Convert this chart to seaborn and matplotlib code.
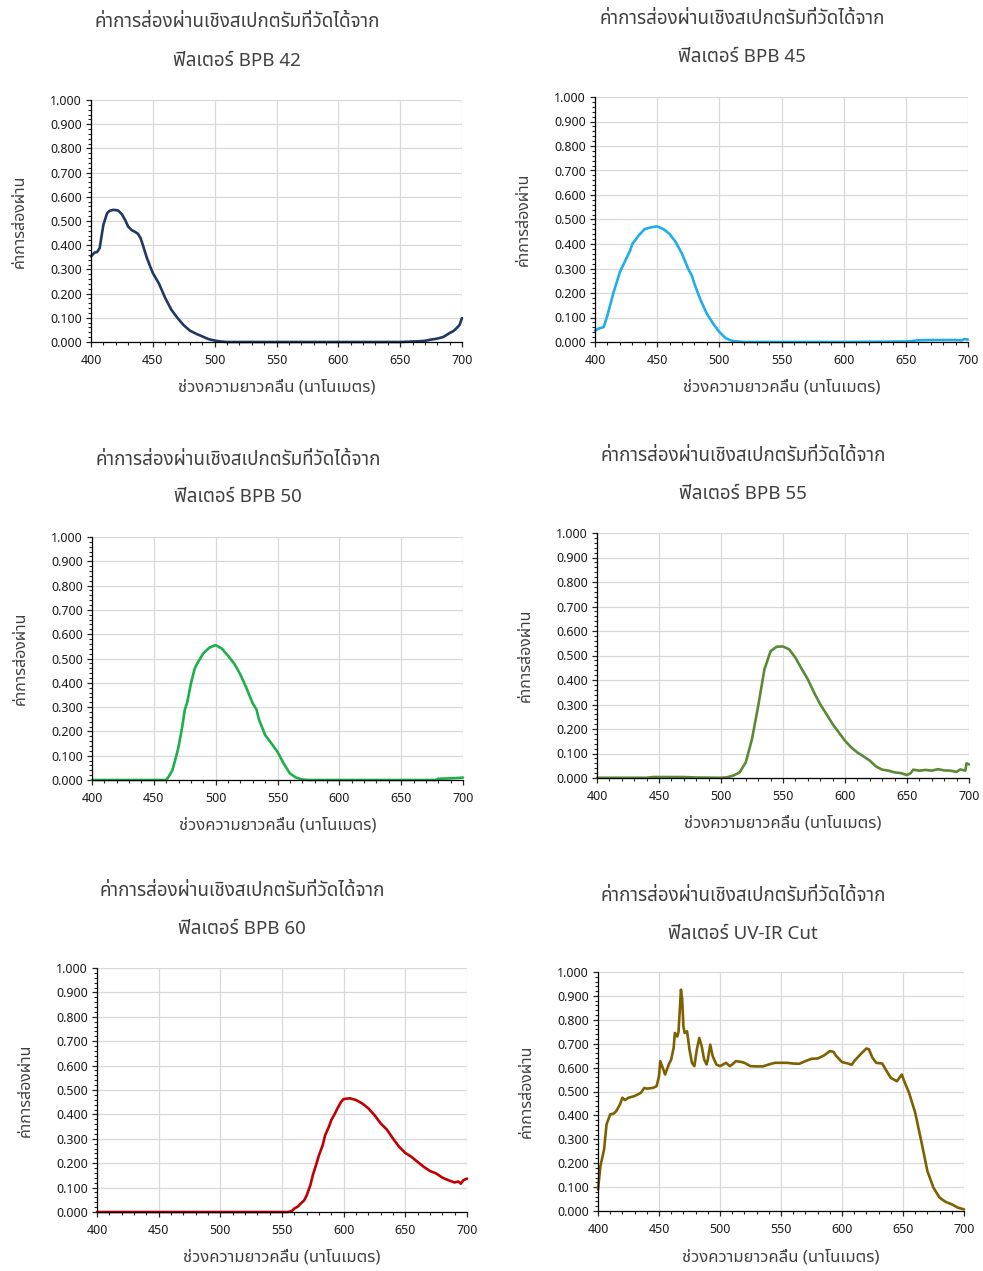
import numpy as np
import pandas as pd
import seaborn as sns
import matplotlib.pyplot as plt
from matplotlib import font_manager
from matplotlib.ft2font import FT2Font
from matplotlib.ticker import MultipleLocator, FormatStrFormatter


# Spectral transmittance (wavelength in nm)
wl_42 = [400,403,405,407,410,413,415,418,420,422,425,428,430,433,435,438,440,442,445,448,450,455,460,465,470,475,480,485,490,495,500,505,510,550,600,650,655,660,665,670,675,680,685,690,693,695,698,700]
t_42 = [0.354,0.37,0.372,0.388,0.484,0.532,0.542,0.546,0.545,0.543,0.528,0.50,0.477,0.462,0.457,0.447,0.43,0.40,0.35,0.31,0.285,0.241,0.182,0.133,0.099,0.069,0.047,0.034,0.023,0.012,0.006,0.002,0.0,0.0,0.0,0.0,0.001,0.002,0.003,0.005,0.010,0.014,0.021,0.037,0.045,0.054,0.07,0.099]

wl_45 = [400,403,407,410,415,420,425,428,430,433,435,440,445,450,455,460,465,470,475,478,480,485,490,495,500,505,510,515,520,600,650,655,660,670,680,690,695,697,700]
t_45 = [0.047,0.055,0.061,0.109,0.204,0.285,0.339,0.37,0.40,0.42,0.434,0.461,0.468,0.472,0.461,0.441,0.407,0.36,0.298,0.27,0.237,0.170,0.115,0.075,0.041,0.016,0.005,0.002,0.0,0.0,0.002,0.004,0.007,0.008,0.008,0.008,0.007,0.012,0.01]

wl_50 = [400,450,460,462,465,468,470,473,475,477,480,483,485,490,495,500,505,510,515,520,525,530,533,535,540,545,550,555,560,565,570,575,650,678,680,685,690,695,700]
t_50 = [0,0,0,0.014,0.04,0.096,0.137,0.22,0.288,0.32,0.397,0.458,0.479,0.521,0.545,0.555,0.541,0.511,0.479,0.434,0.377,0.315,0.29,0.249,0.185,0.151,0.116,0.068,0.027,0.01,0.002,0,0,0,0.005,0.006,0.007,0.008,0.01]

wl_55 = [400,440,445,470,480,500,505,510,515,520,525,530,535,540,545,550,555,560,565,570,575,580,585,590,595,600,605,610,615,620,625,630,635,640,645,650,653,655,660,665,670,675,680,685,690,693,697,698,700]
t_55 = [0.001,0.001,0.004,0.004,0.002,0.001,0.003,0.01,0.023,0.064,0.159,0.294,0.443,0.518,0.536,0.537,0.525,0.491,0.446,0.403,0.349,0.301,0.261,0.22,0.186,0.152,0.125,0.104,0.088,0.071,0.047,0.034,0.03,0.023,0.02,0.012,0.02,0.034,0.03,0.033,0.03,0.036,0.031,0.03,0.025,0.035,0.03,0.06,0.055]

wl_60 = [400,550,555,558,560,563,565,568,570,573,575,578,580,583,585,588,590,593,595,598,600,605,610,615,620,625,630,635,640,645,650,655,660,665,670,675,680,685,690,693,695,697,700]
t_60 = [0,0,0,0.004,0.014,0.023,0.034,0.048,0.068,0.11,0.151,0.199,0.233,0.274,0.315,0.349,0.377,0.404,0.425,0.452,0.463,0.466,0.459,0.445,0.425,0.397,0.363,0.338,0.301,0.267,0.242,0.226,0.205,0.185,0.168,0.158,0.141,0.13,0.121,0.125,0.116,0.13,0.137]

wl_uv = [400,402,405,407,410,413,415,418,420,422,425,430,435,438,440,445,448,450,451,453,455,458,460,462,463,465,466,468,469,470,471,473,475,477,479,481,483,485,487,489,490,492,494,497,500,505,508,510,513,517,520,525,530,535,540,545,550,555,560,565,570,575,580,585,590,593,595,600,605,608,610,615,620,622,625,628,633,635,640,645,648,649,651,655,660,665,670,675,680,685,690,695,700]
t_uv = [0.09,0.188,0.258,0.362,0.404,0.408,0.418,0.446,0.474,0.464,0.474,0.481,0.494,0.515,0.512,0.515,0.522,0.564,0.627,0.60,0.571,0.613,0.634,0.682,0.745,0.73,0.75,0.926,0.885,0.773,0.745,0.752,0.675,0.62,0.606,0.675,0.724,0.689,0.634,0.613,0.634,0.696,0.648,0.613,0.606,0.62,0.606,0.613,0.627,0.624,0.62,0.606,0.605,0.605,0.613,0.62,0.62,0.62,0.617,0.616,0.627,0.637,0.638,0.65,0.669,0.666,0.65,0.623,0.617,0.612,0.627,0.655,0.68,0.677,0.641,0.62,0.617,0.599,0.557,0.543,0.564,0.571,0.543,0.494,0.411,0.292,0.167,0.097,0.056,0.038,0.028,0.014,0.007]

filter_names = ['BPB 42', 'BPB 45', 'BPB 50', 'BPB 55', 'BPB 60', 'UV-IR Cut']
line_colors = ['#1F3864', '#1FAEE8', '#1DAF4E', '#5A8A35', '#C00000', '#7F6000']

title_top = 'ค่าการส่องผ่านเชิงสเปกตรัมที่วัดได้จาก'
title_pre = 'ฟิลเตอร์ '
x_label = 'ช่วงความยาวคลื่น (นาโนเมตร)'
y_label = 'ค่าการส่องผ่าน'


#Pick a font that actually has Thai glyphs, fall back to DejaVu
def find_thai_font():
    names = []
    for f in font_manager.fontManager.ttflist:
        try:
            if 0x0E01 in FT2Font(f.fname).get_charmap():
                names.append(f.name)
        except Exception:
            pass
    for pref in ['Tahoma', 'Leelawadee UI', 'Noto Sans Thai', 'Loma', 'Garuda', 'Sarabun']:
        if pref in names:
            return pref
    return names[0] if names else None


sns.set_style('white')
thai = find_thai_font()
plt.rcParams['font.family'] = ([thai] if thai else []) + ['DejaVu Sans']

W, H = 983, 1271
fig = plt.figure(figsize=(W / 100, H / 100), dpi=100)

# axes boxes in pixels: left, top, right, bottom ; title centre x, title line y's
boxes = [(91, 100, 462, 342, 237, 22, 61),
         (595, 97, 968, 342, 742, 19, 57),
         (92, 537, 463, 780, 238, 460, 497),
         (597, 533, 969, 778, 743, 456, 494),
         (97, 968, 467, 1212, 242, 891, 929),
         (598, 972, 964, 1211, 743, 896, 934)]

series = [(wl_42, t_42), (wl_45, t_45), (wl_50, t_50),
          (wl_55, t_55), (wl_60, t_60), (wl_uv, t_uv)]

for i, (wl, tr) in enumerate(series):
    l, t, r, b, tx, ty1, ty2 = boxes[i]
    ax = fig.add_axes([l / W, 1 - b / H, (r - l) / W, (b - t) / H])
    df = pd.DataFrame({'wl': wl, 'tr': tr})
    sns.lineplot(data=df, x='wl', y='tr', ax=ax, color=line_colors[i],
                 linewidth=1.9, estimator=None, clip_on=False)

    ax.set_xlim(400, 700)
    ax.set_ylim(0, 1)
    ax.xaxis.set_major_locator(MultipleLocator(50))
    ax.xaxis.set_minor_locator(MultipleLocator(10))
    ax.yaxis.set_major_locator(MultipleLocator(0.1))
    ax.yaxis.set_minor_locator(MultipleLocator(0.02))
    ax.yaxis.set_major_formatter(FormatStrFormatter('%.3f'))
    ax.grid(True, which='major', color='#D9D9D9', linewidth=0.9)
    ax.set_axisbelow(True)
    for s in ['top', 'right']:
        ax.spines[s].set_visible(False)
    for s in ['left', 'bottom']:
        ax.spines[s].set_color('#000000')
        ax.spines[s].set_linewidth(0.9)
    ax.tick_params(which='major', direction='out', length=3.5, width=0.9,
                   labelsize=9, labelcolor='#1a1a1a', pad=3,
                   left=True, bottom=True)
    ax.tick_params(axis='x', which='major', pad=5)
    ax.tick_params(which='minor', direction='out', length=2.5, width=0.8,
                   left=True, bottom=True)

    ax.set_xlabel(x_label, fontsize=12, color='#404040', va='center')
    ax.xaxis.set_label_coords(0.5, -46 / (b - t))
    ax.set_ylabel(y_label, fontsize=11.5, color='#404040', va='center')
    ax.yaxis.set_label_coords(-71 / (r - l), 0.5)

    fig.text(tx / W, 1 - ty1 / H, title_top, ha='center', va='center',
             fontsize=13.5, color='#404040')
    fig.text(tx / W, 1 - ty2 / H, title_pre + filter_names[i], ha='center',
             va='center', fontsize=13.5, color='#404040')

fig.savefig('out.png', dpi=100, facecolor='white')
